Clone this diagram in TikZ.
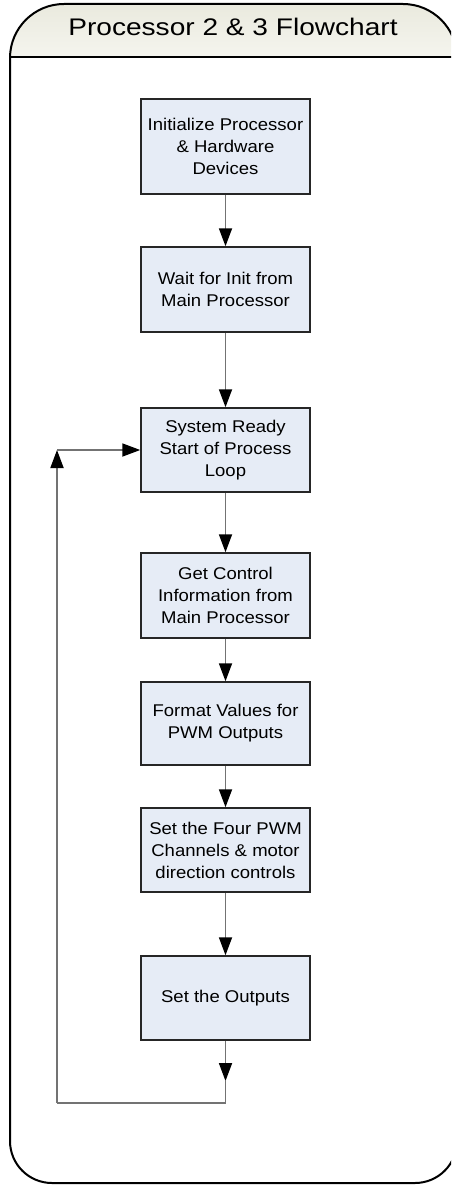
\documentclass[tikz,border=0pt]{standalone}
\usepackage{fontspec}
\setmainfont{Liberation Sans}
\newfontfamily\boxfont[FakeStretch=1.09]{Liberation Sans}
\newfontfamily\headfont[FakeStretch=1.17]{Liberation Sans}
\usetikzlibrary{arrows.meta}
\definecolor{boxfill}{RGB}{230,236,246}
\definecolor{linegray}{RGB}{115,115,115}
\definecolor{headtop}{RGB}{234,234,222}
\tikzset{
  stepbox/.style={draw=black!85, line width=1.5pt, fill=boxfill, minimum width=169pt,
    inner sep=0pt, align=center, font=\boxfont\fontsize{17}{22}\selectfont, text=black},
  flow/.style={draw=linegray, line width=1.8pt, -{Triangle[width=13pt,length=18pt,fill=black,color=black]}},
  plain/.style={draw=linegray, line width=1.8pt},
  frame/.style={draw=black, line width=2pt}
}
\begin{document}
\begin{tikzpicture}[x=1pt,y=-1pt]
\useasboundingbox (0,0) rectangle (451,1185);
\begin{scope}
\clip (0,0) rectangle (451,1185);
% header shading
\begin{scope}
\clip (0,0) rectangle (460,57);
\shade[top color=headtop, bottom color=white, rounded corners=54pt] (10,110) -- (10,4) -- (457,4) -- (457,110) -- cycle;
\end{scope}
\draw[frame] (10,600) [rounded corners=54pt] -- (10,4) -- (457,4) -- (457,600);
\draw[frame] (457,600) [rounded corners=42pt] -- (457,1183) -- (10,1183) -- (10,600);
\draw[black, line width=1.8pt] (10,57) -- (457,57);
\end{scope}
\node[font=\headfont\fontsize{24}{28}\selectfont, text=black] (title) at (233,27) {Processor 2 \& 3 Flowchart};

\node[stepbox, minimum height=95pt] (b1) at (225.5,146.5) {Initialize Processor\\\& Hardware\\Devices};
\node[stepbox, minimum height=85pt] (b2) at (225.5,289.5) {Wait for Init from\\Main Processor};
\node[stepbox, minimum height=84pt] (b3) at (225.5,450) {System Ready\\Start of Process\\Loop};
\node[stepbox, minimum height=85pt] (b4) at (225.5,595.5) {Get Control\\Information from\\Main Processor};
\node[stepbox, minimum height=83pt] (b5) at (225.5,723.5) {Format Values for\\PWM Outputs};
\node[stepbox, minimum height=84pt] (b6) at (225.5,850) {Set the Four PWM\\Channels \& motor\\direction controls};
\node[stepbox, minimum height=84pt] (b7) at (225.5,998) {Set the Outputs};

\coordinate (c1) at (225.5,1081);
\coordinate (c2) at (225.5,1103);
\coordinate (c3) at (57,1103);
\coordinate (c4) at (57,450);

\draw[flow] (b1) -- (b2);
\draw[flow] (b2) -- (b3);
\draw[flow] (b3) -- (b4);
\draw[flow] (b4) -- (b5);
\draw[flow] (b5) -- (b6);
\draw[flow] (b6) -- (b7);
\draw[flow] (b7) -- (c1);
\draw[plain] (c1) -- (c2) -- (c3);
\draw[flow] (c3) -- (c4);
\draw[flow] (c4) -- (b3);
\end{tikzpicture}
\end{document}
